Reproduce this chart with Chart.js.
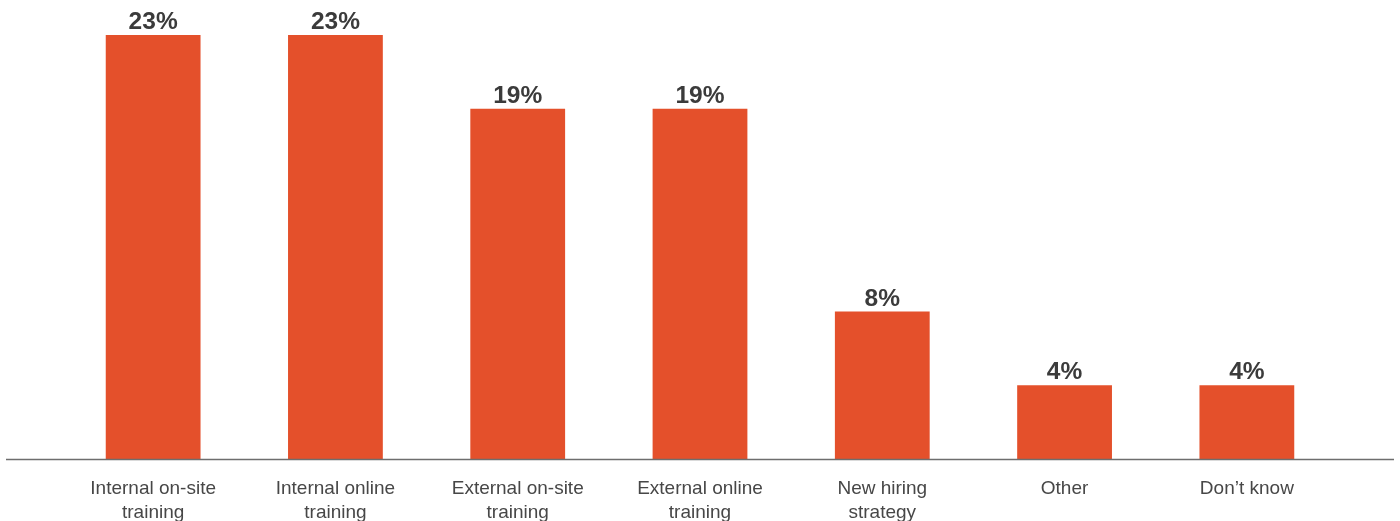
<!DOCTYPE html>
<html>
<head>
<meta charset="utf-8">
<script src="https://cdn.jsdelivr.net/npm/chart.js@4/dist/chart.umd.min.js"></script>
<style>
  html, body { margin: 0; padding: 0; background: #ffffff; }
  #wrap { width: 1400px; height: 521px; position: relative; }
</style>
</head>
<body>
<div id="wrap"><canvas id="chart"></canvas></div>
<script>
// Categories (multi-line labels) and share of respondents, in percent
const categories = [
  ["Internal on-site", "training"],
  ["Internal online", "training"],
  ["External on-site", "training"],
  ["External online", "training"],
  ["New hiring", "strategy"],
  ["Other"],
  ["Don\u2019t know"]
];
const shares = [23, 23, 19, 19, 8, 4, 4];

const BAR_COLOR = "#E4502B";
const FONT = "'Liberation Sans', Arial, Helvetica, sans-serif";

// Value labels above each bar
const valueLabels = {
  id: "valueLabels",
  afterDatasetsDraw(chart) {
    const { ctx } = chart;
    const meta = chart.getDatasetMeta(0);
    ctx.save();
    ctx.font = "bold 24.5px " + FONT;
    ctx.fillStyle = "#3b3b3b";
    ctx.textAlign = "center";
    ctx.textBaseline = "alphabetic";
    meta.data.forEach((bar, i) => {
      ctx.fillText(shares[i] + "%", bar.x, bar.y - 6);
    });
    ctx.restore();
  }
};

// Baseline running across nearly the full width
const baseline = {
  id: "baseline",
  afterDatasetsDraw(chart) {
    const { ctx } = chart;
    const y = Math.round(chart.scales.y.getPixelForValue(0)) + 0.5;
    ctx.save();
    ctx.strokeStyle = "#6e6e6e";
    ctx.lineWidth = 1.5;
    ctx.beginPath();
    ctx.moveTo(6, y);
    ctx.lineTo(1394, y);
    ctx.stroke();
    ctx.restore();
  }
};

new Chart(document.getElementById("chart"), {
  type: "bar",
  data: {
    labels: categories,
    datasets: [{
      data: shares,
      backgroundColor: BAR_COLOR,
      borderWidth: 0,
      barPercentage: 0.52,
      categoryPercentage: 1.0
    }]
  },
  options: {
    responsive: true,
    maintainAspectRatio: false,
    animation: false,
    layout: { padding: { left: 62, right: 62, top: 0, bottom: -22 } },
    plugins: {
      legend: { display: false },
      tooltip: { enabled: false }
    },
    scales: {
      x: {
        border: { display: false },
        grid: { display: false, drawTicks: false },
        ticks: {
          color: "#474747",
          font: { family: FONT, size: 19, lineHeight: "24px" },
          padding: 18,
          maxRotation: 0,
          autoSkip: false
        }
      },
      y: {
        display: false,
        min: 0,
        max: 24.9
      }
    }
  },
  plugins: [baseline, valueLabels]
});
</script>
</body>
</html>
